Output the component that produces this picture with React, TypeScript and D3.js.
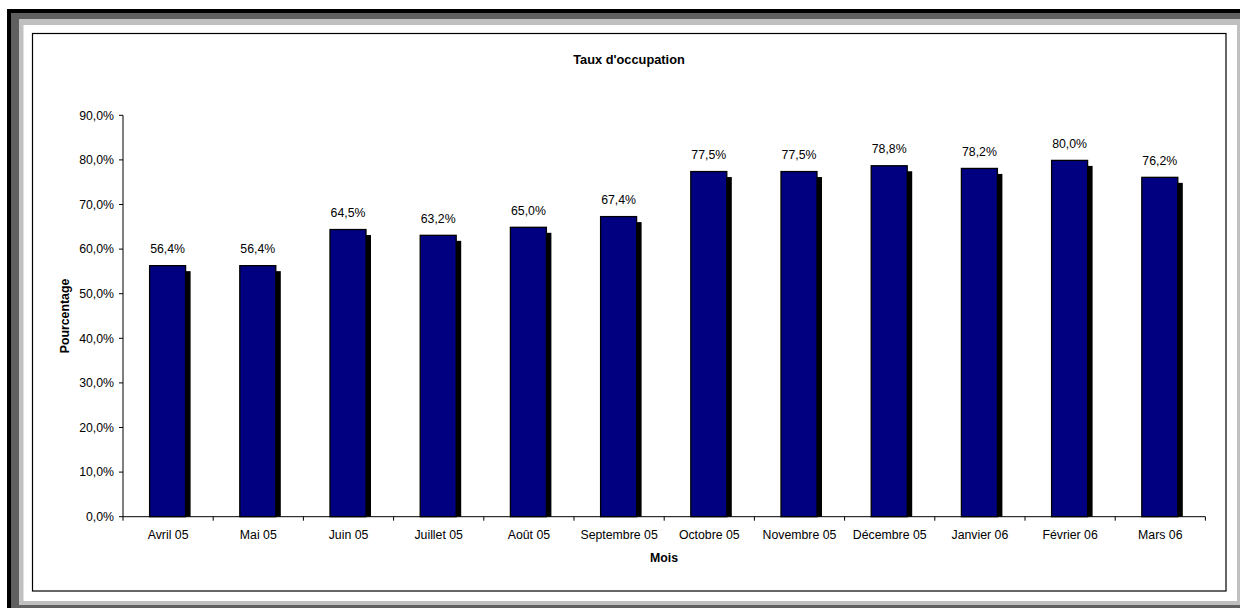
import React from "react";
import * as d3 from "d3";

const months = [
  "Avril 05", "Mai 05", "Juin 05", "Juillet 05", "Août 05", "Septembre 05",
  "Octobre 05", "Novembre 05", "Décembre 05", "Janvier 06", "Février 06", "Mars 06",
];
const rates = [56.4, 56.4, 64.5, 63.2, 65.0, 67.4, 77.5, 77.5, 78.8, 78.2, 80.0, 76.2];
const yTicks = [0, 10, 20, 30, 40, 50, 60, 70, 80, 90];
const title = "Taux d'occupation";
const xTitle = "Mois";
const yTitle = "Pourcentage";

const FONT = "'Liberation Sans', Arial, sans-serif";
const fmt = (v: number) => v.toFixed(1).replace(".", ",") + "%";

export default function App() {
  const W = 1240, H = 608;
  const left = 123, right = 1205.4, top = 115.3, bottom = 516.7;
  const x = d3.scaleBand<string>().domain(months).range([left, right]).padding(0);
  const y = d3.scaleLinear().domain([0, 90]).range([bottom, top]);
  const barW = 37;
  const fs = 12.3;

  return (
    <svg width={W} height={H} style={{ position: "absolute", left: 0, top: 0 }} fontFamily={FONT}>
      <rect x={0} y={0} width={W} height={H} fill="#fff" />
      {/* frame */}
      <rect x={7} y={9} width={W} height={H} fill="#000" />
      <rect x={11} y={13} width={W} height={H} fill="#606060" />
      <rect x={19} y={19} width={W} height={605 - 19} fill="#c0c0c0" />
      <rect x={23.5} y={25} width={1237 - 23.5} height={601 - 25} fill="#fff" />
      <rect x={32.5} y={33.5} width={1193.5} height={557.5} fill="#fff" stroke="#000" strokeWidth={1.2} />

      <text x={629} y={64} textAnchor="middle" fontWeight="bold" fontSize={12.8}>{title}</text>

      {/* y axis */}
      <line x1={left} x2={left} y1={top} y2={bottom} stroke="#000" strokeWidth={1} />
      {yTicks.map((t) => (
        <g key={t}>
          <line x1={left - 4} x2={left} y1={y(t)} y2={y(t)} stroke="#000" />
          <text x={left - 9} y={y(t)} dy="0.35em" textAnchor="end" fontSize={fs}>{fmt(t)}</text>
        </g>
      ))}
      <text transform={`translate(69,316) rotate(-90)`} textAnchor="middle" fontWeight="bold" fontSize={fs}>{yTitle}</text>

      {/* bars */}
      {months.map((m, i) => {
        const cx = (x(m) as number) + x.bandwidth() / 2 - 0.5;
        const bx = cx - barW / 2;
        const by = y(rates[i]);
        return (
          <g key={m}>
            <rect x={bx + 5} y={by + 6} width={barW - 0.5} height={bottom - by - 6} fill="#000" />
            <rect x={bx + 0.5} y={by + 0.5} width={barW - 1} height={bottom - by - 0.5} fill="#000080" stroke="#000" strokeWidth={1.3} />
            <text x={cx} y={by - 12} textAnchor="middle" fontSize={fs}>{fmt(rates[i])}</text>
          </g>
        );
      })}

      {/* x axis */}
      <line x1={left} x2={right} y1={bottom} y2={bottom} stroke="#000" strokeWidth={1} />
      {[...months.map((m) => x(m) as number), right].map((p, i) => (
        <line key={i} x1={p} x2={p} y1={bottom} y2={bottom + 4} stroke="#000" />
      ))}
      {months.map((m) => (
        <text key={m} x={(x(m) as number) + x.bandwidth() / 2} y={538.5} textAnchor="middle" fontSize={fs}>{m}</text>
      ))}
      <text x={664} y={562} textAnchor="middle" fontWeight="bold" fontSize={fs}>{xTitle}</text>
    </svg>
  );
}
